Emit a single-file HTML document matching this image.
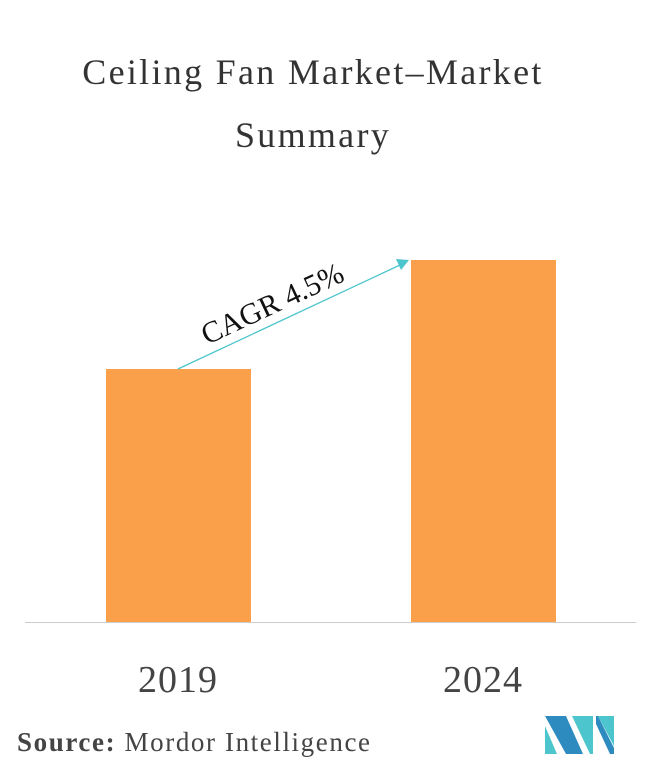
<!DOCTYPE html>
<html><head><style>body{margin:0;background:#fff}</style></head><body>
<svg width="659" height="781" xmlns="http://www.w3.org/2000/svg" style="display:block">
<rect width="659" height="781" fill="#fff"/>
<g font-family="Liberation Serif, serif" fill="#333" font-size="36" text-anchor="middle" letter-spacing="2.3">
<text x="313" y="84">Ceiling Fan Market–Market</text>
<text x="313" y="147">Summary</text>
</g>
<rect x="106" y="369" width="145" height="253" fill="#FBA04A"/>
<rect x="411" y="260" width="145" height="362" fill="#FBA04A"/>
<line x1="25" y1="622.5" x2="636" y2="622.5" stroke="#ccc" stroke-width="1"/>
<line x1="178" y1="369" x2="400" y2="265" stroke="#4CC5CC" stroke-width="1.3"/>
<polygon points="409,260 396,259 401,270" fill="#4CC5CC"/>
<text x="0" y="0" transform="translate(207,345) rotate(-25)" font-family="Liberation Serif, serif" font-size="30" fill="#111">CAGR 4.5%</text>
<g font-family="Liberation Serif, serif" fill="#444" font-size="38" text-anchor="middle" letter-spacing="1">
<text x="178" y="692">2019</text>
<text x="483" y="692">2024</text>
</g>
<text x="17" y="751" font-family="Liberation Serif, serif" font-size="27" fill="#444" letter-spacing="1.6"><tspan font-weight="bold">Source:</tspan> Mordor Intelligence</text>
<g>
<polygon points="545,716 566,716 583,754 566,754" fill="#2E8BC0"/>
<polygon points="545,726 545,754 557,754" fill="#4CC5CC"/>
<polygon points="572,716 593,716 593,754 590,754" fill="#4CC5CC"/>
<polygon points="596,716 598,716 614,748 614,754 610,754 596,724" fill="#2E8BC0"/>
<polygon points="598,716 614,716 614,746" fill="#4CC5CC"/>
</g>
</svg>
</body></html>
